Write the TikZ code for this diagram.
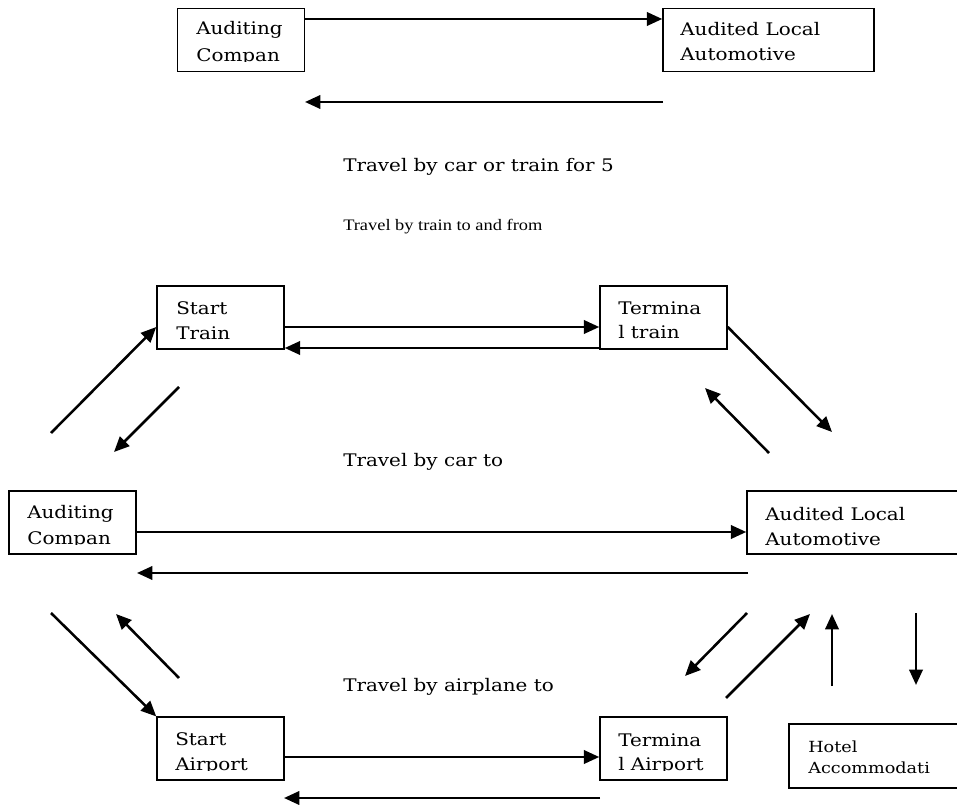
\documentclass[tikz,border=0pt]{standalone}
\usepackage{fontspec}
\newfontfamily\bkfont{DejaVu Serif}[FakeStretch=1.15]
\newfontfamily\tmfont{Liberation Serif}[FakeStretch=1.15]
\usetikzlibrary{arrows.meta}
\begin{document}
\begin{tikzpicture}[x=0.75pt,y=-0.75pt,
  box/.style={draw,line width=1.1pt,minimum width=95.25pt,minimum height=47pt,inner sep=0pt},
  widebox/.style={box,minimum width=158.25pt},
  arr/.style={line width=1.9pt,-{Triangle[length=11.5pt,width=10pt]}},
  lbl/.style={anchor=base west,inner sep=0pt,font=\bkfont\fontsize{13pt}{15pt}\selectfont},
  smlbl/.style={anchor=base west,inner sep=0pt,font=\bkfont\fontsize{11.5pt}{13pt}\selectfont},
  tmlbl/.style={anchor=base west,inner sep=0pt,font=\tmfont\fontsize{12pt}{14pt}\selectfont}]
\useasboundingbox (0,0) rectangle (957,805);

% boxes
\node[box] (A1) at (241,40) {};
\node[widebox] (B1) at (768.5,40) {};
\node[box] (ST) at (220.5,317.5) {};
\node[box] (TT) at (663.5,317.5) {};
\node[box] (A2) at (72.5,522.5) {};
\node[widebox] (B2) at (852.5,522.5) {};
\node[box] (SA) at (220.5,748.5) {};
\node[box] (TA) at (663.5,748.5) {};
\node[widebox,minimum height=48pt] (H) at (894.5,756) {};

% box texts
\node[lbl] (a1t1) at (196,35) {Auditing};
\begin{scope}
\clip (179,10) rectangle (303,61.5);
\node[lbl] (a1t2) at (196,61.5) {Compan};
\end{scope}
\node[lbl] (b1t1) at (680,36) {Audited Local};
\node[lbl] (b1t2) at (680,61) {Automotive};
\node[lbl] (stt1) at (176,315) {Start};
\node[lbl] (stt2) at (176,340) {Train};
\node[lbl] (ttt1) at (618,315) {Termina};
\node[lbl] (ttt2) at (618,339) {l train};
\node[lbl] (a2t1) at (27,518) {Auditing};
\begin{scope}
\clip (10,492) rectangle (135,544.5);
\node[lbl] (a2t2) at (27,544.5) {Compan};
\end{scope}
\node[lbl] (b2t1) at (765,520) {Audited Local};
\node[lbl] (b2t2) at (765,545) {Automotive};
\node[lbl] (sat1) at (175,745) {Start};
\begin{scope}
\clip (158,718) rectangle (283,770.5);
\node[lbl] (sat2) at (175,770.5) {Airport};
\end{scope}
\node[lbl] (tat1) at (618,746) {Termina};
\begin{scope}
\clip (601,718) rectangle (726,770.5);
\node[lbl] (tat2) at (618,770.5) {l Airport};
\end{scope}
\node[smlbl] (ht1) at (808,752) {Hotel};
\node[smlbl] (ht2) at (808,773) {Accommodati};

% free labels
\node[lbl] (L1) at (343,172) {Travel by car or train for 5};
\node[tmlbl] (L2) at (343,231) {Travel by train to and from};
\node[lbl] (L3) at (343,467) {Travel by car to};
\node[lbl] (L4) at (343,691) {Travel by airplane to};

% free arrow ends
\coordinate (r1s) at (663,102);
\coordinate (r1e) at (305,102);
\coordinate (d1s) at (51,433);
\coordinate (d2s) at (179,387);
\coordinate (d2e) at (114,452);
\coordinate (d3e) at (832,432);
\coordinate (d4s) at (769,453);
\coordinate (d4e) at (705,388);
\coordinate (r2s) at (748,573);
\coordinate (r2e) at (137,573);
\coordinate (d5s) at (51,613);
\coordinate (d6s) at (179,678);
\coordinate (d6e) at (116,614);
\coordinate (r3s) at (600,798);
\coordinate (r3e) at (284,798);
\coordinate (d7s) at (747,613);
\coordinate (d7e) at (685,676);
\coordinate (d8s) at (726,698);
\coordinate (d8e) at (810,614);
\coordinate (v1s) at (832,686);
\coordinate (v1e) at (832,614);
\coordinate (v2s) at (916,613);
\coordinate (v2e) at (916,685);

% arrows
\draw[arr] (A1.east |- 0,19) -- (B1.west |- 0,19);
\draw[arr] (r1s) -- (r1e);
\draw[arr] (ST.east |- 0,327) -- (TT.west |- 0,327);
\draw[arr] (TT.west |- 0,348) -- (ST.east |- 0,348);
\draw[arr] (d1s) -- (ST.west |- 0,327);
\draw[arr] (d2s) -- (d2e);
\draw[arr] (TT.east |- 0,327) -- (d3e);
\draw[arr] (d4s) -- (d4e);
\draw[arr] (A2.east |- 0,532) -- (B2.west |- 0,532);
\draw[arr] (r2s) -- (r2e);
\draw[arr] (d5s) -- (SA.north west);
\draw[arr] (d6s) -- (d6e);
\draw[arr] (SA.east |- 0,757) -- (TA.west |- 0,757);
\draw[arr] (r3s) -- (r3e);
\draw[arr] (d7s) -- (d7e);
\draw[arr] (d8s) -- (d8e);
\draw[arr] (v1s) -- (v1e);
\draw[arr] (v2s) -- (v2e);
\end{tikzpicture}
\end{document}
